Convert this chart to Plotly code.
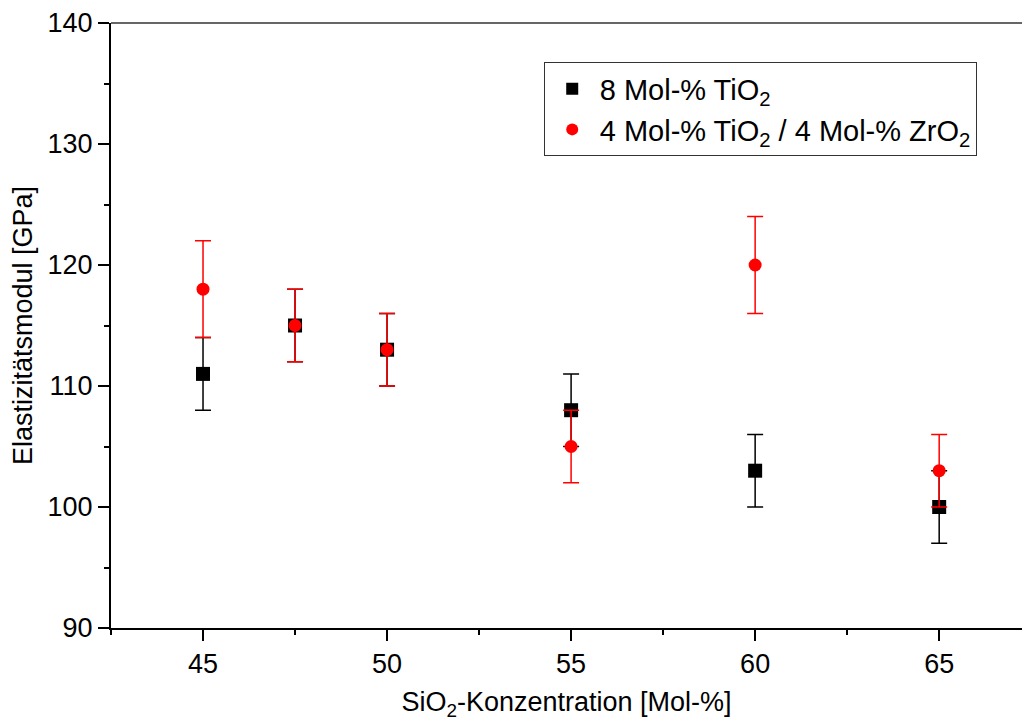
import plotly.graph_objects as go

x_vals = [45, 47.5, 50, 55, 60, 65]
ti_vals = [111, 115, 113, 108, 103, 100]
ti_err = [3, 3, 3, 3, 3, 3]
zr_vals = [118, 115, 113, 105, 120, 103]
zr_err = [4, 3, 3, 3, 4, 3]

FONT = "Arial, Liberation Sans, sans-serif"

fig = go.Figure()
fig.add_trace(go.Scatter(
    x=x_vals, y=ti_vals, mode="markers", name="8 Mol-% TiO<sub>2</sub>",
    marker=dict(symbol="square", size=14, color="#000000"),
    error_y=dict(type="data", array=ti_err, visible=True, color="#000000", thickness=1.5, width=8),
))
fig.add_trace(go.Scatter(
    x=x_vals, y=zr_vals, mode="markers", name="4 Mol-% TiO<sub>2</sub> / 4 Mol-% ZrO<sub>2</sub>",
    marker=dict(symbol="circle", size=13, color="#ff0000"),
    error_y=dict(type="data", array=zr_err, visible=True, color="#ff0000", thickness=1.5, width=8),
))

fig.update_layout(
    width=1022, height=722,
    margin=dict(l=111, r=0, t=23, b=94),
    paper_bgcolor="white", plot_bgcolor="white",
    font=dict(family=FONT, size=27, color="black"),
    showlegend=True,
    legend=dict(
        x=0.475, y=0.935, xanchor="left", yanchor="top",
        bordercolor="#333333", borderwidth=1, bgcolor="white",
        font=dict(family=FONT, size=29, color="black"),
        itemsizing="constant", tracegroupgap=0, itemwidth=45,
    ),
    xaxis=dict(
        range=[42.5, 67.25], tick0=45, dtick=5, showgrid=False, zeroline=False,
        showline=True, linecolor="black", linewidth=2,
        ticks="outside", ticklen=11, tickwidth=1.5, tickcolor="black",
        minor=dict(ticks="outside", ticklen=5, tickwidth=1.5, tickcolor="black", dtick=2.5, tick0=45),
        tickfont=dict(family=FONT, size=27, color="black"),
        title=dict(text="SiO<sub>2</sub>-Konzentration [Mol-%]", font=dict(family=FONT, size=27, color="black"), standoff=14),
    ),
    yaxis=dict(
        range=[90, 140], tick0=90, dtick=10, showgrid=False, zeroline=False,
        showline=True, linecolor="black", linewidth=2,
        ticks="outside", ticklen=11, tickwidth=1.5, tickcolor="black",
        minor=dict(ticks="outside", ticklen=5, tickwidth=1.5, tickcolor="black", dtick=5),
        tickfont=dict(family=FONT, size=27, color="black"),
        title=dict(text="Elastizitätsmodul [GPa]", font=dict(family=FONT, size=27, color="black"), standoff=7),
    ),
    shapes=[dict(type="line", xref="paper", yref="paper", x0=0, x1=1, y0=1, y1=1,
                 line=dict(color="#666666", width=2))],
)

fig.write_html("out.html")
